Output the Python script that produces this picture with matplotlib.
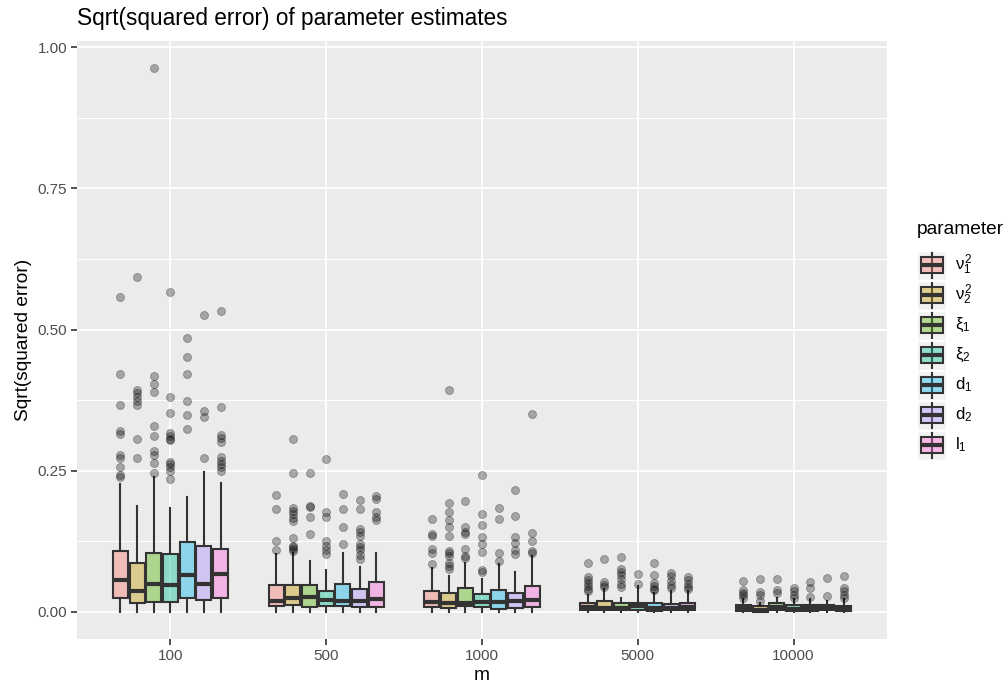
import matplotlib
matplotlib.use("Agg")
import matplotlib.pyplot as plt
from matplotlib.patches import Rectangle
from matplotlib.colors import to_rgba

plt.rcParams['font.family'] = ['Liberation Sans', 'DejaVu Sans']
plt.rcParams['mathtext.fontset'] = 'custom'
plt.rcParams['mathtext.rm'] = 'Liberation Sans'
plt.rcParams['mathtext.it'] = 'Liberation Sans'
plt.rcParams['mathtext.bf'] = 'Liberation Sans:bold'

# sample sizes on the x axis and the seven parameters (dodged within each m)
m_labels = ['100', '500', '1000', '5000', '10000']
param_labels = [r'$\nu_1^2$', r'$\nu_2^2$', r'$\xi_1$', r'$\xi_2$',
                r'$\mathrm{d}_1$', r'$\mathrm{d}_2$', r'$\mathrm{l}_1$']
param_colors = ['#F8766D', '#C49A00', '#53B400', '#00C094',
                '#00B6EB', '#A58AFF', '#FB61D7']

# box statistics, one row per m, one column per parameter
q1 = [
    [0.024, 0.016, 0.017, 0.018, 0.025, 0.021, 0.025],
    [0.0095, 0.012, 0.009, 0.011, 0.0095, 0.008, 0.008],
    [0.0077, 0.006, 0.010, 0.008, 0.005, 0.006, 0.008],
    [0.0025, 0.0035, 0.0025, 0.0035, 0.002, 0.003, 0.0025],
    [0.002, 0.0005, 0.0035, 0.002, 0.002, 0.003, 0.002],
]
medians = [
    [0.057, 0.037, 0.050, 0.048, 0.066, 0.050, 0.067],
    [0.0195, 0.025, 0.027, 0.021, 0.0195, 0.0195, 0.0225],
    [0.018, 0.015, 0.015, 0.018, 0.018, 0.0195, 0.021],
    [0.008, 0.007, 0.006, 0.011, 0.007, 0.006, 0.008],
    [0.006, 0.004, 0.008, 0.005, 0.006, 0.007, 0.005],
]
q3 = [
    [0.108, 0.086, 0.105, 0.102, 0.123, 0.117, 0.112],
    [0.048, 0.047, 0.048, 0.037, 0.049, 0.040, 0.052],
    [0.036, 0.033, 0.042, 0.032, 0.038, 0.034, 0.046],
    [0.0155, 0.019, 0.0155, 0.016, 0.0155, 0.014, 0.016],
    [0.012, 0.0106, 0.0155, 0.012, 0.012, 0.012, 0.010],
]
whisker_lo = [
    [0.0, 0.0, 0.0, 0.0, 0.0, 0.0, 0.0],
    [0.0, 0.0, 0.0, 0.0, 0.0, 0.0, 0.0],
    [0.0, 0.0, 0.0, 0.0, 0.0, 0.0, 0.0],
    [0.0, 0.0, 0.0, 0.0, 0.0, 0.0, 0.0],
    [0.0, 0.0, 0.0, 0.0, 0.0, 0.0, 0.0],
]
whisker_hi = [
    [0.226, 0.188, 0.238, 0.184, 0.203, 0.248, 0.228],
    [0.102, 0.105, 0.090, 0.074, 0.105, 0.079, 0.105],
    [0.077, 0.064, 0.087, 0.058, 0.085, 0.070, 0.099],
    [0.030, 0.040, 0.024, 0.045, 0.034, 0.036, 0.036],
    [0.022, 0.016, 0.025, 0.022, 0.022, 0.020, 0.022],
]
outliers = [
    [
        [0.557, 0.422, 0.366, 0.321, 0.315, 0.277, 0.272, 0.256, 0.243, 0.239],
        [0.593, 0.393, 0.387, 0.380, 0.373, 0.367, 0.307, 0.272],
        [0.963, 0.417, 0.404, 0.389, 0.329, 0.312, 0.284, 0.278, 0.264, 0.246],
        [0.566, 0.381, 0.353, 0.316, 0.311, 0.306, 0.304, 0.266, 0.261, 0.256, 0.250, 0.235],
        [0.485, 0.452, 0.421, 0.374, 0.349, 0.324],
        [0.525, 0.355, 0.345, 0.273],
        [0.532, 0.362, 0.313, 0.308, 0.300, 0.274, 0.268, 0.262, 0.257, 0.249],
    ],
    [
        [0.207, 0.182, 0.126, 0.109],
        [0.306, 0.246, 0.184, 0.179, 0.173, 0.167, 0.161, 0.130, 0.117, 0.114, 0.111, 0.108],
        [0.245, 0.188, 0.186, 0.168, 0.137],
        [0.271, 0.176, 0.168, 0.126, 0.117, 0.110, 0.102],
        [0.209, 0.182, 0.151, 0.120],
        [0.198, 0.182, 0.147, 0.141, 0.135, 0.120, 0.115, 0.109, 0.101, 0.093],
        [0.206, 0.200, 0.176, 0.168, 0.163],
    ],
    [
        [0.164, 0.138, 0.135, 0.111, 0.105, 0.085],
        [0.393, 0.192, 0.176, 0.163, 0.151, 0.134, 0.108, 0.104, 0.099, 0.087, 0.082, 0.076],
        [0.197, 0.150, 0.141, 0.137, 0.111, 0.099, 0.096],
        [0.243, 0.173, 0.154, 0.133, 0.120, 0.106, 0.074, 0.071],
        [0.183, 0.165, 0.105, 0.090],
        [0.215, 0.169, 0.132, 0.121, 0.109, 0.102],
        [0.351, 0.140, 0.126, 0.107, 0.104],
    ],
    [
        [0.086, 0.061, 0.056, 0.051, 0.046, 0.041, 0.036],
        [0.093, 0.053, 0.048, 0.044],
        [0.097, 0.076, 0.070, 0.065, 0.058, 0.050, 0.044],
        [0.067, 0.049],
        [0.087, 0.065, 0.051, 0.045, 0.041, 0.038],
        [0.069, 0.063, 0.055, 0.048, 0.042],
        [0.062, 0.056, 0.050, 0.044, 0.040],
    ],
    [
        [0.054, 0.039, 0.034, 0.029, 0.024],
        [0.058, 0.035, 0.030, 0.019],
        [0.058, 0.039, 0.033],
        [0.042, 0.036, 0.030, 0.024],
        [0.053, 0.042, 0.027],
        [0.059, 0.028],
        [0.063, 0.042, 0.036, 0.030, 0.025],
    ],
]

EDGE = '#333333'
PANEL = '#EBEBEB'
LW = 1.5
n_par = len(param_labels)
dodge = 0.75
step = dodge / n_par
box_w = step * 0.9

fig = plt.figure(figsize=(10.08, 6.88), dpi=100)
ax = fig.add_axes([77 / 1008, 1 - 639 / 688, 810 / 1008, 598 / 688])
ax.set_facecolor(PANEL)

for i in range(len(m_labels)):
    for j in range(n_par):
        stats = [dict(q1=q1[i][j], med=medians[i][j], q3=q3[i][j],
                      whislo=whisker_lo[i][j], whishi=whisker_hi[i][j],
                      fliers=outliers[i][j])]
        pos = i + 1 + (j - (n_par - 1) / 2) * step
        ax.bxp(stats, positions=[pos], widths=box_w, patch_artist=True,
               showcaps=False, manage_ticks=False,
               boxprops=dict(facecolor=to_rgba(param_colors[j], 0.4),
                             edgecolor=EDGE, linewidth=LW),
               medianprops=dict(color=EDGE, linewidth=2 * LW, solid_capstyle='butt'),
               whiskerprops=dict(color=EDGE, linewidth=LW),
               flierprops=dict(marker='o', markersize=5.8, linestyle='none',
                               markerfacecolor=(0, 0, 0, 0.3),
                               markeredgecolor=(0, 0, 0, 0.3),
                               markeredgewidth=0.6))

ax.set_xlim(0.4, len(m_labels) + 0.6)
ax.set_ylim(-0.0482, 1.0112)
ax.set_xticks(range(1, len(m_labels) + 1))
ax.set_xticklabels(m_labels)
ax.set_yticks([0, 0.25, 0.5, 0.75, 1.0])
ax.set_yticklabels(['0.00', '0.25', '0.50', '0.75', '1.00'])
ax.set_yticks([0.125, 0.375, 0.625, 0.875], minor=True)

ax.set_axisbelow(True)
ax.grid(True, which='major', color='white', linewidth=1.3)
ax.grid(True, which='minor', axis='y', color='white', linewidth=0.7)
for s in ax.spines.values():
    s.set_visible(False)
ax.tick_params(which='major', length=4, width=1.2, color=EDGE,
               labelcolor='#4D4D4D', labelsize=11, pad=3)
ax.tick_params(which='minor', length=0)

fig.text(77 / 1008, 1 - 25 / 688, 'Sqrt(squared error) of parameter estimates',
         fontsize=16.3, ha='left', va='baseline', color='black')
fig.text(24 / 1008, 1 - 340 / 688, 'Sqrt(squared error)', fontsize=13.8,
         rotation=90, ha='center', va='center')
fig.text(482 / 1008, 1 - 676 / 688, 'm', fontsize=13.8, ha='center', va='center')

# legend drawn in figure pixel space
lax = fig.add_axes([0, 0, 1, 1])
lax.set_xlim(0, 1008)
lax.set_ylim(688, 0)
lax.axis('off')
lax.text(917, 230, 'parameter', fontsize=13.8, ha='left', va='center')
for j in range(n_par):
    cy = 265 + 30 * j
    lax.add_patch(Rectangle((917, cy - 14.5), 29, 29, facecolor='#F2F2F2',
                            edgecolor='white', linewidth=1))
    lax.plot([931.5, 931.5], [cy - 12.5, cy + 12.5], color=EDGE, linewidth=LW)
    lax.add_patch(Rectangle((920.5, cy - 8), 22, 16,
                            facecolor=to_rgba(param_colors[j], 0.4),
                            edgecolor=EDGE, linewidth=LW, zorder=3))
    lax.plot([920.5, 942.5], [cy, cy], color=EDGE, linewidth=2 * LW,
             solid_capstyle='butt', zorder=4)
    lax.text(955, cy, param_labels[j], fontsize=12, ha='left', va='center')

fig.savefig('out.png', dpi=100)
